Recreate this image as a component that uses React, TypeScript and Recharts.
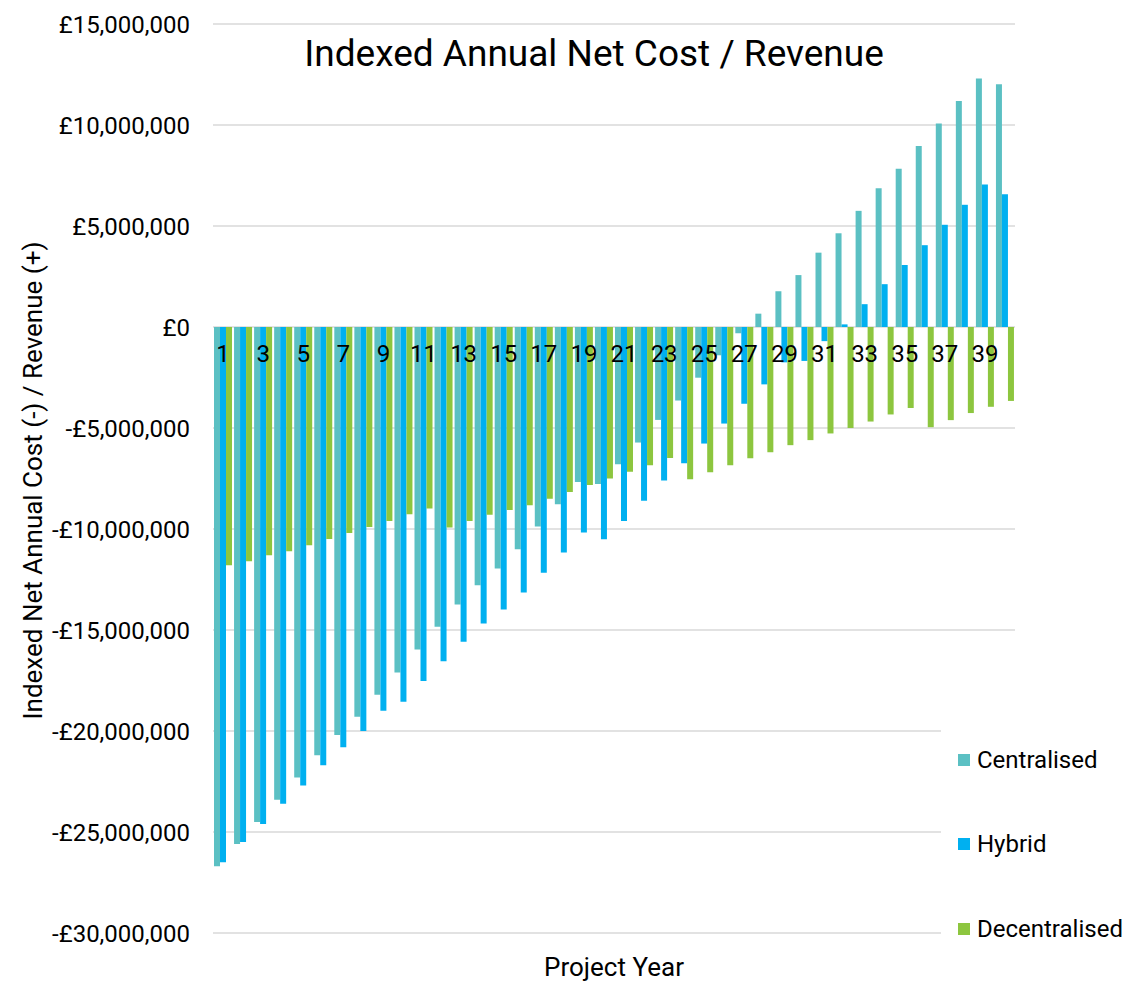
import React from 'react';
import { ComposedChart, Bar, Line, XAxis, YAxis, CartesianGrid } from 'recharts';

// the chart is laid out in page pixels, so drop the default body margin
if (typeof document !== 'undefined') {
  document.body.style.margin = '0';
  document.body.style.overflow = 'hidden';
}

// Project years (category axis)
const years = [
  '1', '2', '3', '4', '5', '6', '7', '8', '9', '10',
  '11', '12', '13', '14', '15', '16', '17', '18', '19', '20',
  '21', '22', '23', '24', '25', '26', '27', '28', '29', '30',
  '31', '32', '33', '34', '35', '36', '37', '38', '39', '40',
];

// Indexed annual net cost / revenue, £ millions
const centralised = [
  -26.7, -25.6, -24.5, -23.4, -22.3, -21.2, -20.2, -19.3, -18.2, -17.1,
  -15.96, -14.84, -13.74, -12.78, -11.95, -11.0, -9.88, -8.78, -7.67, -7.77,
  -6.8, -5.72, -4.6, -3.64, -2.51, -1.4, -0.31, 0.66, 1.77, 2.57,
  3.68, 4.64, 5.75, 6.87, 7.84, 8.96, 10.08, 11.19, 12.3, 12.02,
];
const hybrid = [
  -26.5, -25.5, -24.6, -23.6, -22.7, -21.7, -20.8, -20.0, -19.0, -18.55,
  -17.52, -16.55, -15.58, -14.68, -13.98, -13.14, -12.17, -11.16, -10.17, -10.51,
  -9.6, -8.6, -7.6, -6.75, -5.77, -4.78, -3.8, -2.84, -1.75, -1.68,
  -0.7, 0.13, 1.13, 2.12, 3.07, 4.05, 5.06, 6.05, 7.05, 6.57,
];
const decentralised = [
  -11.8, -11.6, -11.3, -11.1, -10.8, -10.5, -10.2, -9.9, -9.6, -9.27,
  -8.98, -9.93, -9.6, -9.29, -9.06, -8.83, -8.5, -8.17, -7.82, -7.5,
  -7.17, -6.84, -6.48, -7.54, -7.19, -6.84, -6.5, -6.2, -5.85, -5.6,
  -5.27, -5.0, -4.68, -4.33, -4.01, -4.96, -4.61, -4.26, -3.95, -3.66,
];

const yTicks = [15000000, 10000000, 5000000, 0, -5000000, -10000000, -15000000, -20000000, -25000000, -30000000];

const series = [
  { key: 'Centralised', color: '#5BC0C3' },
  { key: 'Hybrid', color: '#00B0F0' },
  { key: 'Decentralised', color: '#8DC63F' },
];

const data = years.map((year, i) => ({
  year,
  Centralised: centralised[i] * 1e6,
  Hybrid: hybrid[i] * 1e6,
  Decentralised: decentralised[i] * 1e6,
}));

const FONT = 'Roboto, "Noto Sans", sans-serif';

const formatPounds = (v: number) => {
  const s = Math.abs(v).toFixed(0).replace(/\B(?=(\d{3})+(?!\d))/g, ',');
  return (v < 0 ? '-' : '') + '£' + s;
};

// year labels sit on the zero line, every other year
const YearLabel = (props: any) => {
  const { cx, cy, index, payload } = props;
  if (index % 2 !== 0 || cx == null) return <g key={`yl-${index}`} />;
  return (
    <text key={`yl-${index}`} x={cx} y={cy + 35} textAnchor="middle" fontSize={24} fontFamily={FONT} fill="#000">
      {payload.year}
    </text>
  );
};

const YTitle = (props: any) => {
  const { viewBox } = props;
  const cx = viewBox.x + 33;
  const cy = viewBox.y + viewBox.height / 2 + 2;
  return (
    <text x={cx} y={cy} transform={`rotate(-90 ${cx} ${cy})`} textAnchor="middle" dominantBaseline="central"
      fontSize={26} fontFamily={FONT} fill="#000">
      Indexed Net Annual Cost (-) / Revenue (+)
    </text>
  );
};

const XTitle = (props: any) => {
  const { viewBox } = props;
  return (
    <text x={viewBox.x + viewBox.width / 2} y={viewBox.y + 43} textAnchor="middle" fontSize={26} fontFamily={FONT} fill="#000">
      Project Year
    </text>
  );
};

export default function App() {
  return (
    <div style={{ position: 'relative', width: 1127, height: 981, background: '#fff', fontFamily: FONT }}>
      <ComposedChart
        width={1127}
        height={981}
        data={data}
        margin={{ top: 24, right: 112, bottom: 0, left: 0 }}
        barCategoryGap={1}
        barGap={0}
      >
        <CartesianGrid vertical={false} stroke="#D9D9D9" strokeWidth={1.4} />
        <XAxis dataKey="year" height={48} tick={false} axisLine={false} tickLine={false} label={<XTitle />} />
        <YAxis
          width={213}
          domain={[-30000000, 15000000]}
          ticks={yTicks}
          interval={0}
          tickFormatter={formatPounds}
          axisLine={false}
          tickLine={false}
          tickMargin={17}
          tick={{ fontSize: 24, fontFamily: FONT, fill: '#000' }}
          label={<YTitle />}
        />
        {series.map((s) => (
          <Bar key={s.key} dataKey={s.key} fill={s.color} isAnimationActive={false} />
        ))}
        <Line
          dataKey={() => 0}
          stroke="none"
          dot={YearLabel}
          activeDot={false}
          legendType="none"
          isAnimationActive={false}
        />
      </ComposedChart>

      <div style={{ position: 'absolute', left: 244, top: 34, width: 700, textAlign: 'center', fontSize: 37, lineHeight: '40px', color: '#000', whiteSpace: 'nowrap' }}>
        Indexed Annual Net Cost / Revenue
      </div>

      <div style={{ position: 'absolute', left: 941, top: 690, width: 186, height: 285, background: '#fff' }}>
        {series.map((s, i) => (
          <div key={s.key} style={{ position: 'absolute', left: 17, top: 56 + i * 84.3, height: 28, display: 'flex', alignItems: 'center', whiteSpace: 'nowrap' }}>
            <span style={{ width: 12, height: 12, background: s.color, display: 'inline-block', marginRight: 7 }} />
            <span style={{ fontSize: 24, color: '#000', lineHeight: '28px' }}>{s.key}</span>
          </div>
        ))}
      </div>
    </div>
  );
}
